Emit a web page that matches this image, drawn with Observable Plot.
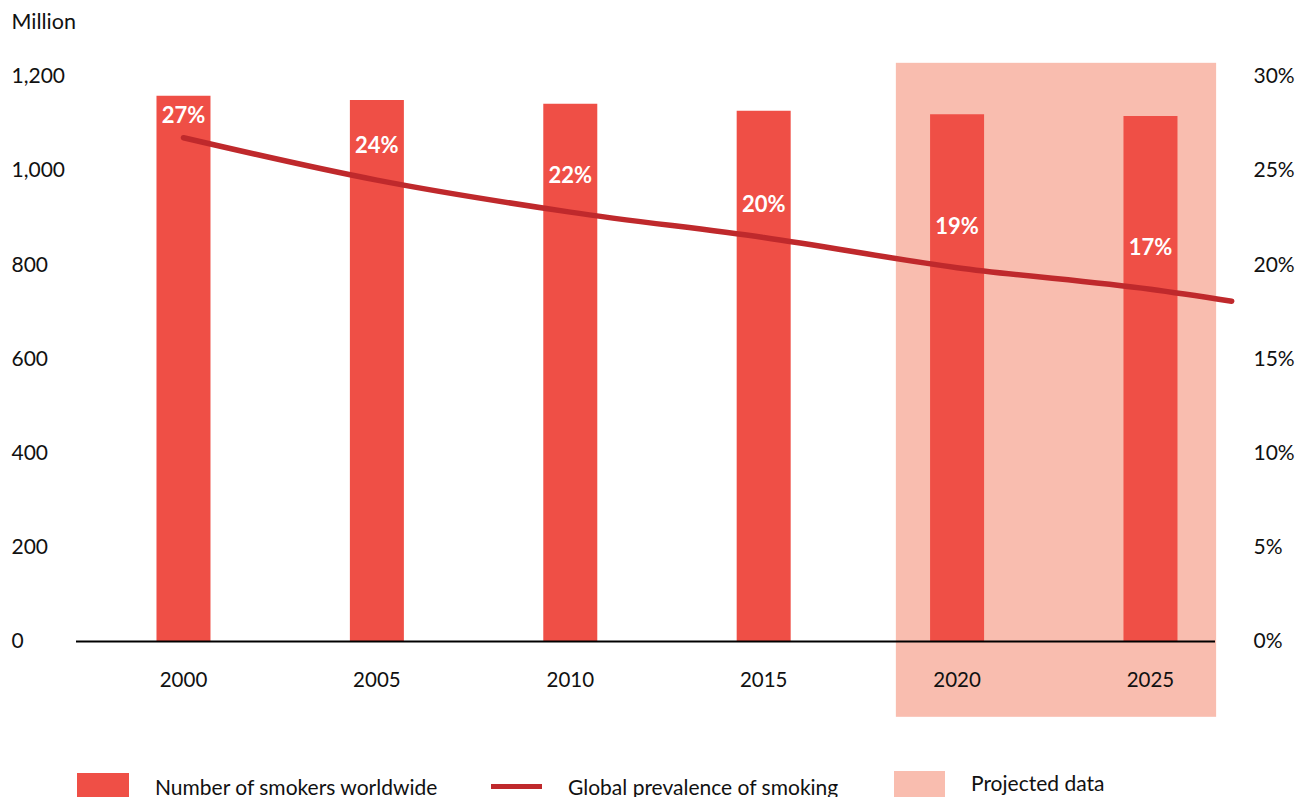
<!DOCTYPE html>
<html>
<head>
<meta charset="utf-8">
<script src="https://cdn.jsdelivr.net/npm/d3@7"></script>
<script src="https://cdn.jsdelivr.net/npm/@observablehq/plot@0.6"></script>
<style>
  html, body { margin: 0; padding: 0; background: #fff; }
  body { width: 1310px; height: 797px; overflow: hidden; font-family: Lato, "Open Sans", sans-serif; color: #111; }
  #chart svg { display: block; }
  #legend { position: relative; height: 32px; font-size: 21px; }
  #legend .sw { position: absolute; }
  #legend .lb { position: absolute; line-height: 24px; white-space: nowrap; }
</style>
</head>
<body>
<div id="chart"></div>
<div id="legend"></div>
<script>
// ---- data ----
const years = [2000, 2005, 2010, 2015, 2020, 2025];
const smokers = [1158, 1149, 1141, 1126, 1119, 1115];            // million
const prevalenceLabels = ["27%", "24%", "22%", "20%", "19%", "17%"];
const labelLevels = [27.9, 26.3, 24.7, 23.2, 22.0, 20.9];        // % height of the labels
const lineYears = [2000, 2005, 2010, 2015, 2020, 2025, 2027.1];
const prevalence = [26.75, 24.5, 22.8, 21.45, 19.85, 18.7, 18.07]; // %
const leftTicks = [0, 200, 400, 600, 800, 1000, 1200];
const rightTicks = [0, 5, 10, 15, 20, 25, 30];
const projectedSpan = [2018.43, 2026.71];
const projectedHeight = [-161, 1228];
const legendItems = ["Number of smokers worldwide", "Global prevalence of smoking", "Projected data"];

// ---- colours ----
const barColor = "#ef4f46";
const lineColor = "#bf292c";
const projColor = "#f9bdaf";

const ratio = 1200 / 30; // million per percentage point

const bars = years.map((y, i) => ({year: y, smokers: smokers[i], label: prevalenceLabels[i], level: labelLevels[i]}));
const line = lineYears.map((y, i) => ({year: y, p: prevalence[i]}));

const chart = Plot.plot({
  width: 1310,
  height: 765,
  marginLeft: 76,
  marginRight: 95,
  marginTop: 76,
  marginBottom: 124,
  style: {fontFamily: "Lato, 'Open Sans', sans-serif", fontSize: "21px", color: "#111", background: "#fff"},
  x: {type: "linear", domain: [1997.234, 2026.681]},
  y: {domain: [0, 1200]},
  marks: [
    Plot.rect([0], {x1: () => projectedSpan[0], x2: () => projectedSpan[1], y1: () => projectedHeight[0], y2: () => projectedHeight[1], fill: projColor}),
    Plot.ruleX(bars, {x: "year", y1: 0, y2: "smokers", stroke: barColor, strokeWidth: 54}),
    Plot.ruleY([0], {stroke: "#000", strokeWidth: 2}),
    Plot.line(line, {x: "year", y: d => d.p * ratio, stroke: lineColor, strokeWidth: 5.5, curve: "monotone-x"}),
    Plot.text(bars, {x: "year", y: d => d.level * ratio, text: "label", fill: "#fff", fontWeight: "bold", fontSize: 22}),
    Plot.axisX({ticks: years, tickSize: 0, tickPadding: 31, tickFormat: d => String(d), label: null, fontSize: 20.5}),
    Plot.axisY({anchor: "left", ticks: leftTicks, tickSize: 0, tickPadding: 65, textAnchor: "start", tickFormat: d3.format(","), label: null}),
    Plot.axisY({anchor: "right", ticks: leftTicks, tickSize: 0, tickPadding: 38, textAnchor: "start", tickFormat: d => (d / ratio) + "%", label: null}),
    Plot.text(["Million"], {frameAnchor: "top-left", text: d => d, textAnchor: "start", lineAnchor: "middle", dx: -65, dy: -54, fontSize: 21.5})
  ]
});
document.getElementById("chart").appendChild(chart);

// ---- legend ----
const lg = document.getElementById("legend");
lg.innerHTML = `
  <div class="sw" style="left:77px;top:8px;width:52px;height:26px;background:${barColor}"></div>
  <div class="lb" style="left:155px;top:10px">${legendItems[0]}</div>
  <div class="sw" style="left:491px;top:19px;width:51px;height:5px;background:${lineColor}"></div>
  <div class="lb" style="left:568px;top:10px">${legendItems[1]}</div>
  <div class="sw" style="left:894px;top:6px;width:51px;height:28px;background:${projColor}"></div>
  <div class="lb" style="left:971px;top:6px">${legendItems[2]}</div>
`;
</script>
</body>
</html>
